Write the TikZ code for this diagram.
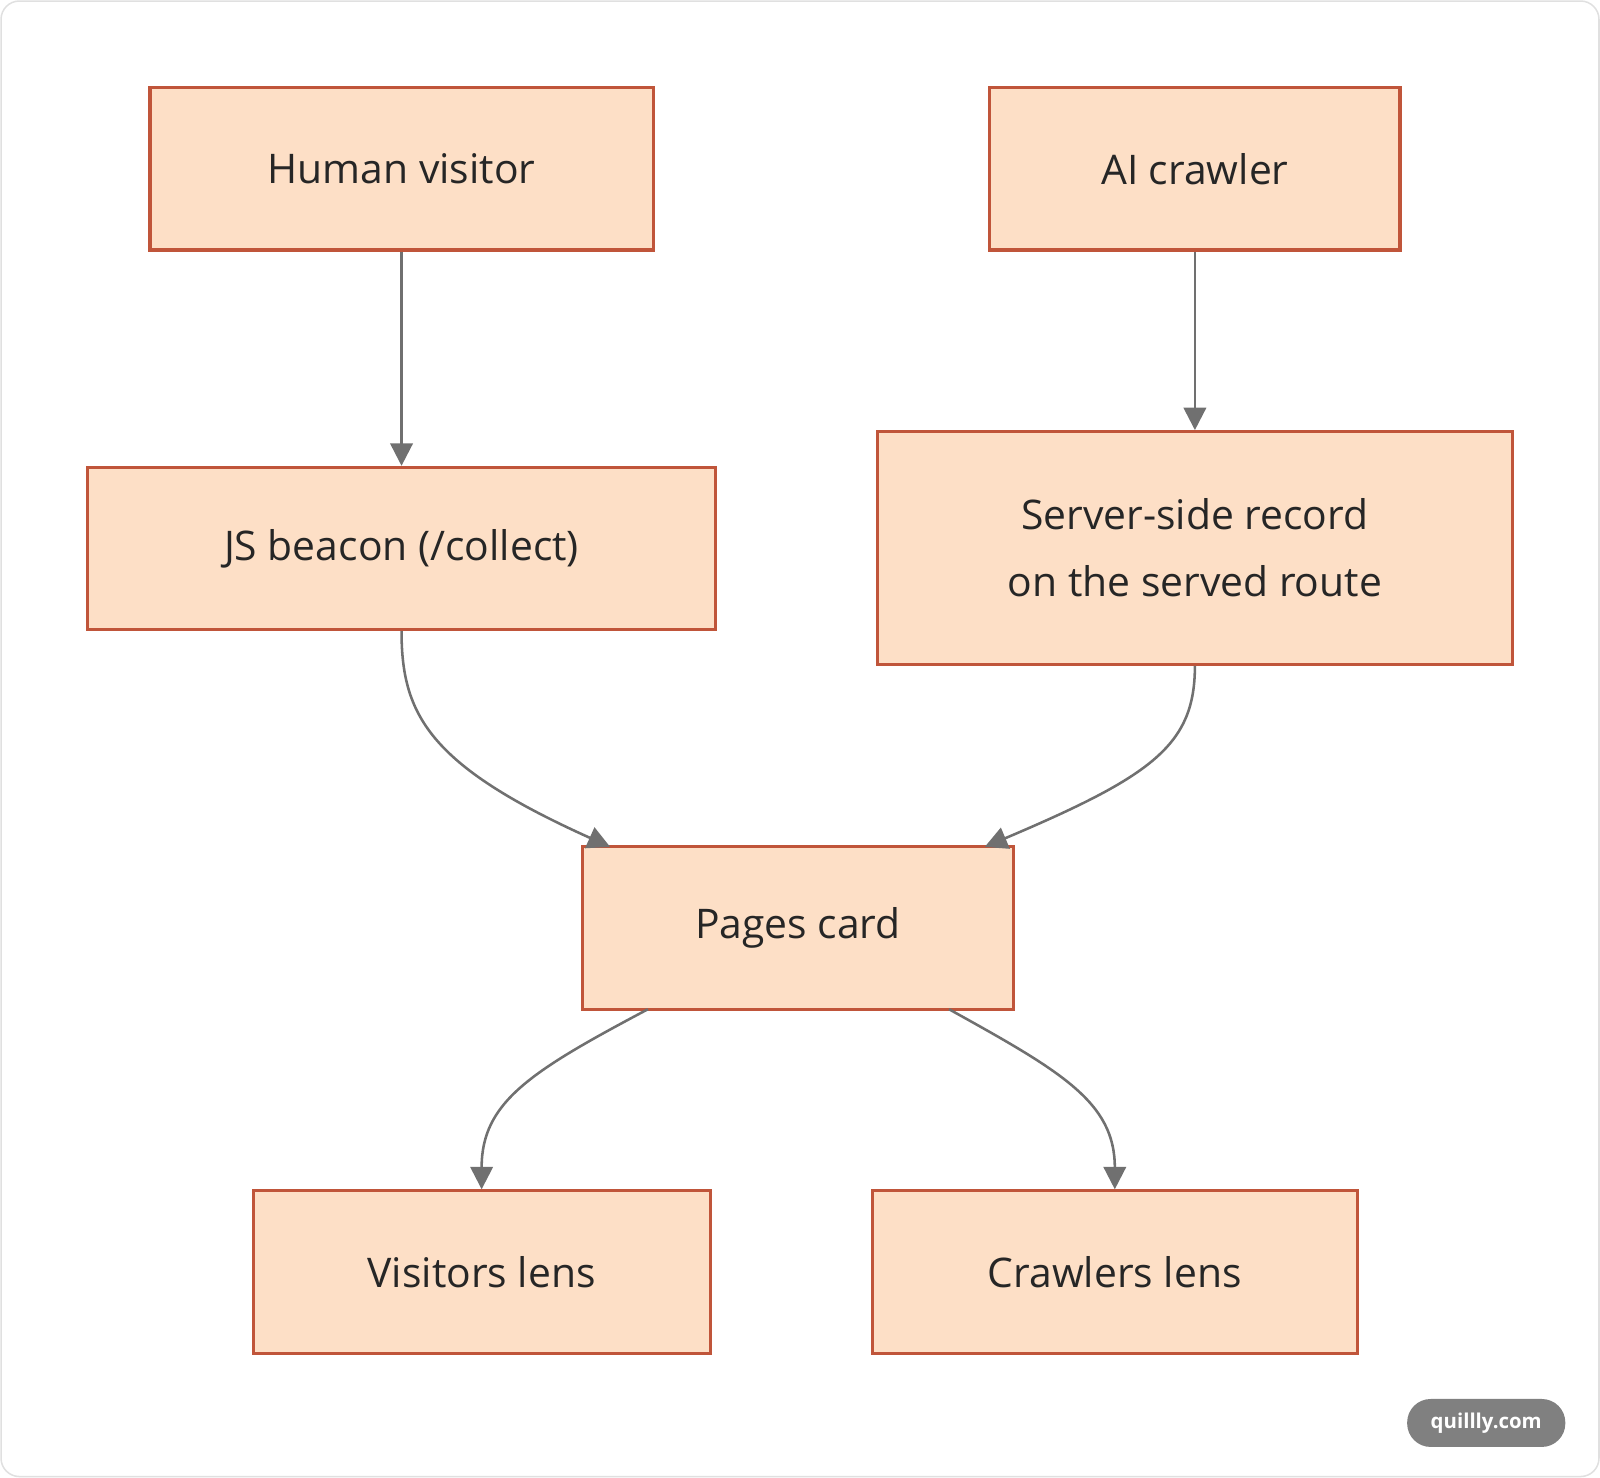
\documentclass[tikz,border=0pt]{standalone}
\usepackage{fontspec}
\setmainfont{Open Sans}
\usetikzlibrary{arrows.meta}
\definecolor{boxfill}{HTML}{FDDFC6}
\definecolor{boxdraw}{HTML}{C0553A}
\definecolor{edge}{HTML}{707070}
\begin{document}
\begin{tikzpicture}[x=1pt,y=-1pt,
 box/.style={draw=boxdraw,fill=boxfill,line width=3pt,inner sep=0pt,align=center,font=\fontsize{40}{66}\selectfont,text=black!85},
 arr/.style={draw=edge,line width=2.5pt,-{Triangle[length=22pt,width=22pt]}}]
\useasboundingbox (0,0) rectangle (1568,1448);
\draw[draw=black!12,line width=1.5pt,rounded corners=18pt] (1,1) rectangle (1567,1447);
\node[box,minimum width=493pt,minimum height=159pt] (hv) at (393.5,165.5) {Human visitor};
\node[box,minimum width=402pt,minimum height=159pt] (ai) at (1171,165.5) {AI crawler};
\node[box,minimum width=615pt,minimum height=159pt] (js) at (393.5,537.5) {JS beacon (/collect)};
\node[box,minimum width=622pt,minimum height=228pt] (ss) at (1171,537) {Server-side record\\on the served route};
\node[box,minimum width=422pt,minimum height=159pt] (pc) at (782,909.5) {Pages card};
\node[box,minimum width=448pt,minimum height=159pt] (vl) at (472,1246.5) {Visitors lens};
\node[box,minimum width=475pt,minimum height=159pt] (cl) at (1092.5,1246.5) {Crawlers lens};
\coordinate (p1) at (598,830);
\coordinate (p2) at (965,830);
\coordinate (p3) at (635,989);
\coordinate (p4) at (930,989);
\draw[arr] (hv) -- (js);
\draw[arr] (ai) -- (ss);
\draw[arr] (js.south) .. controls (393.5,700) and (420,750) .. (p1);
\draw[arr] (ss.south) .. controls (1171,730) and (1130,760) .. (p2);
\draw[arr] (p3) .. controls (520,1050) and (472,1080) .. (vl.north);
\draw[arr] (p4) .. controls (1040,1050) and (1092.5,1080) .. (cl.north);
\node[fill=black!50,text=white,rounded corners=23pt,minimum width=155pt,minimum height=47pt,font=\fontsize{20}{24}\selectfont\bfseries] (wm) at (1456.5,1394.5) {quillly.com};
\end{tikzpicture}
\end{document}
